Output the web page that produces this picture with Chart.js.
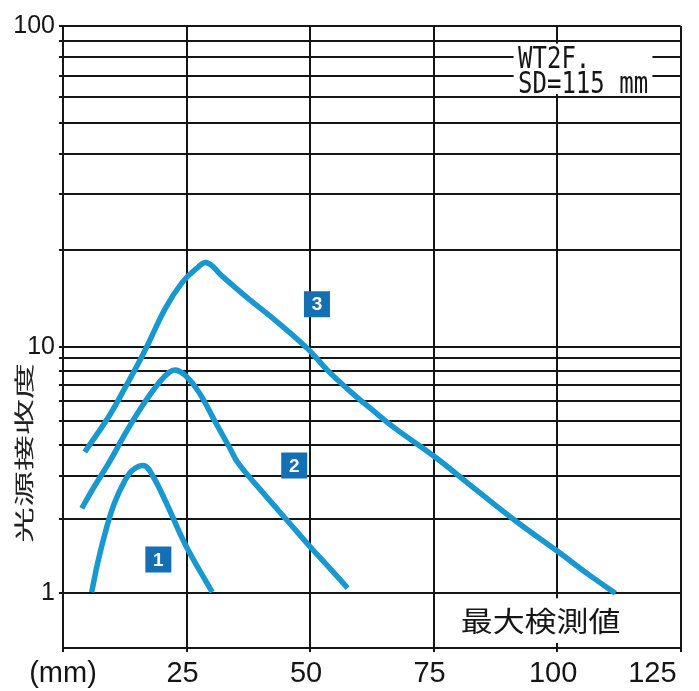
<!DOCTYPE html>
<html>
<head>
<meta charset="utf-8">
<script src="https://cdn.jsdelivr.net/npm/chart.js@4/dist/chart.umd.min.js"></script>
<style>
  html, body { margin: 0; padding: 0; background: #fff; }
  #wrap { width: 699px; height: 691px; position: relative; }
</style>
</head>
<body>
<div id="wrap"><canvas id="sensChart"></canvas></div>
<script>
// distance (mm) vs. relative received light
const curve1X = [5.8, 7.1, 8.8, 10.4, 12.4, 14.1, 16.5, 18.1, 20.8, 24.8, 30.2];
const curve1Y = [1.01, 1.35, 1.84, 2.32, 2.83, 3.16, 3.29, 3.01, 2.35, 1.57, 1.01];

const curve2X = [3.8, 6.1, 9.4, 12.8, 16.1, 19.5, 21.5, 22.8, 24.8, 27.5, 30.8, 33.7, 35.5, 40.9, 45.6, 50.2, 54.2, 57.6];
const curve2Y = [2.21, 2.66, 3.41, 4.51, 5.77, 7.17, 7.87, 8.04, 7.63, 6.54, 4.96, 3.90, 3.36, 2.50, 1.95, 1.53, 1.25, 1.05];

const curve3X = [4.4, 9.4, 12.8, 15.5, 17.5, 20.8, 24.1, 26.8, 29.1, 32.2, 36.9, 43.5, 49.6, 53.6, 58.3, 62.3, 67.3, 75.3, 83.7, 91.7, 100.1, 106.4, 111.8];
const curve3Y = [3.74, 5.26, 6.95, 8.74, 10.4, 13.24, 15.83, 17.41, 18.27, 16.6, 14.38, 11.89, 9.77, 7.99, 6.54, 5.60, 4.65, 3.57, 2.62, 1.96, 1.48, 1.19, 1.0];

// numbered tags next to each curve
const badgeX = [19.3, 46.8, 51.4];
const badgeY = [1.37, 3.30, 13.56];
const badgeText = ['1', '2', '3'];

const xTicks = [0, 25, 50, 75, 100, 125];
const yTicks = [1, 2, 3, 4, 5, 6, 7, 8, 9, 10, 20, 30, 40, 50, 60, 70, 80, 90, 100];
const yLabels = [1, 10, 100];

const curveColor = '#1898cf';
const badgeColor = '#1570b3';
const inkColor = '#151515';

// log axis whose upper decade is drawn taller than the lower one, like the printed chart
class StretchLogScale extends Chart.LogarithmicScale {
    static id = 'stretchlog';
    _warp(v) {
        const u = Math.log10(v);
        const p = Math.log10(this.options.pivot);
        return u > p ? p + (u - p) * this.options.stretch : u;
    }
    _unwarp(w) {
        const p = Math.log10(this.options.pivot);
        return Math.pow(10, w > p ? p + (w - p) / this.options.stretch : w);
    }
    getPixelForValue(value) {
        if (value === undefined || value <= 0) value = this.min;
        const lo = this._warp(this.min), hi = this._warp(this.max);
        return this.getPixelForDecimal((this._warp(value) - lo) / (hi - lo));
    }
    getValueForPixel(pixel) {
        const lo = this._warp(this.min), hi = this._warp(this.max);
        return this._unwarp(lo + this.getDecimalForPixel(pixel) * (hi - lo));
    }
}
Chart.register(StretchLogScale);

const toPoints = (xs, ys) => xs.map((x, i) => ({ x: x, y: ys[i] }));

const curveStyle = {
    type: 'line',
    borderColor: curveColor,
    borderWidth: 5.5,
    pointRadius: 0,
    fill: false,
    tension: 0.4,
    borderJoinStyle: 'round'
};

// text, white label boxes and the badge digits
const notesPlugin = {
    id: 'notes',
    afterDatasetsDraw(chart) {
        const { ctx, chartArea, scales: { x, y } } = chart;
        ctx.save();

        // badge numbers
        ctx.fillStyle = '#fff';
        ctx.font = 'bold 19px "Liberation Sans", Arial, sans-serif';
        ctx.textAlign = 'center';
        ctx.textBaseline = 'middle';
        chart.getDatasetMeta(3).data.forEach((pt, i) => {
            ctx.fillText(badgeText[i], pt.x, pt.y + 1);
        });

        // model note, top right
        const nTop = y.getPixelForValue(90) + 3;
        const nBot = y.getPixelForValue(60) - 3;
        const nLeft = x.getPixelForValue(91.2);
        const nRight = x.getPixelForValue(119.3);
        ctx.fillStyle = '#fff';
        ctx.fillRect(nLeft, nTop, nRight - nLeft, nBot - nTop);
        ctx.fillStyle = inkColor;
        ctx.textAlign = 'left';
        ctx.textBaseline = 'alphabetic';
        ctx.font = '24px "DejaVu Sans Mono", monospace';
        const tx = x.getPixelForValue(92.1);
        [['WT2F.', nTop + 24], ['SD=115 mm', nTop + 49]].forEach(([t, by]) => {
            ctx.save();
            ctx.translate(tx, by);
            ctx.scale(1, 1.25);
            ctx.fillText(t, 0, 0);
            ctx.restore();
        });

        // max detection label in the bottom band
        const mTop = y.getPixelForValue(1) + 5;
        const mBot = chartArea.bottom - 5;
        const mLeft = x.getPixelForValue(79);
        const mRight = x.getPixelForValue(113.5);
        ctx.fillStyle = '#fff';
        ctx.fillRect(mLeft, mTop, mRight - mLeft, mBot - mTop);
        ctx.fillStyle = inkColor;
        ctx.textAlign = 'center';
        ctx.textBaseline = 'middle';
        ctx.font = '28px "Noto Sans CJK JP", sans-serif';
        ctx.save();
        ctx.translate((mLeft + mRight) / 2 + 2, (mTop + mBot) / 2 + 1);
        ctx.scale(1.14, 1);
        ctx.fillText('最大検測値', 0, 0);
        ctx.restore();

        // rotated y title
        ctx.fillStyle = '#222';
        ctx.font = '20px "Noto Sans CJK JP", sans-serif';
        ctx.save();
        ctx.translate(24, (chartArea.top + chartArea.bottom) / 2 + 116);
        ctx.rotate(-Math.PI / 2);
        ctx.scale(1.8, 1);
        ctx.fillText('光源接收度', 0, 0);
        ctx.restore();

        ctx.restore();
    }
};

const ctx = document.getElementById('sensChart').getContext('2d');
new Chart(ctx, {
    type: 'line',
    data: {
        datasets: [
            Object.assign({ label: '1', data: toPoints(curve1X, curve1Y) }, curveStyle),
            Object.assign({ label: '2', data: toPoints(curve2X, curve2Y) }, curveStyle),
            Object.assign({ label: '3', data: toPoints(curve3X, curve3Y) }, curveStyle),
            {
                type: 'scatter',
                label: 'tags',
                data: toPoints(badgeX, badgeY),
                pointStyle: 'rect',
                pointRadius: 18.4,
                backgroundColor: badgeColor,
                borderWidth: 0
            }
        ]
    },
    options: {
        responsive: true,
        maintainAspectRatio: false,
        animation: false,
        layout: { padding: { top: 26, right: 13, bottom: 0, left: 0 } },
        plugins: {
            legend: { display: false },
            tooltip: { enabled: false }
        },
        scales: {
            x: {
                type: 'linear',
                min: 0,
                max: 125,
                afterBuildTicks: (scale) => { scale.ticks = xTicks.map(v => ({ value: v })); },
                afterFit: (scale) => {
                    scale.height = 43;
                    scale.paddingLeft = 0;
                    scale.paddingRight = 0;
                },
                grid: { color: inkColor, lineWidth: 2, tickLength: 4 },
                border: { display: true, color: inkColor, width: 2 },
                ticks: {
                    autoSkip: false,
                    maxRotation: 0,
                    padding: 5,
                    labelOffset: -4,
                    color: inkColor,
                    font: { family: '"Liberation Sans", Arial, sans-serif', size: 29 },
                    callback: (v) => v === 0 ? ' (mm)' : (v === 125 ? '125      ' : String(v))
                }
            },
            y: {
                type: 'stretchlog',
                pivot: 10,
                stretch: 1.3,
                min: 0.614,
                max: 100,
                afterBuildTicks: (scale) => { scale.ticks = yTicks.map(v => ({ value: v })); },
                afterFit: (scale) => { scale.width = 63; },
                grid: { color: inkColor, lineWidth: 2, tickLength: 4 },
                border: { display: true, color: inkColor, width: 2 },
                ticks: {
                    autoSkip: false,
                    padding: 4,
                    color: inkColor,
                    font: { family: '"Liberation Sans", Arial, sans-serif', size: 25 },
                    callback: (v) => yLabels.includes(v) ? String(v) : ''
                }
            }
        }
    },
    plugins: [notesPlugin]
});
</script>
</body>
</html>
